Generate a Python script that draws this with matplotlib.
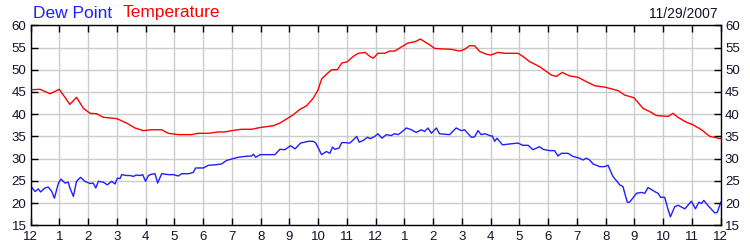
import matplotlib
matplotlib.use("Agg")
import matplotlib.pyplot as plt

plt.rcParams['font.family'] = ['Liberation Sans', 'DejaVu Sans']

# hours since midnight, temperature (F)
temp_hours = [0, 0.33, 0.68, 1.0, 1.37, 1.6, 1.84, 2.07, 2.3, 2.53, 3.0, 3.34, 3.63, 3.92,
              4.21, 4.56, 4.79, 5.14, 5.6, 5.83, 6.18, 6.53, 6.76, 6.99, 7.34, 7.69, 7.98,
              8.21, 8.44, 8.67, 8.9, 9.14, 9.37, 9.6, 9.83, 10.0, 10.12, 10.29, 10.47, 10.67,
              10.82, 11.01, 11.22, 11.4, 11.63, 11.8, 11.92,
              12.08, 12.31, 12.49, 12.66, 12.89, 13.12, 13.36, 13.56, 13.7, 13.88, 14.05,
              14.28, 14.63, 14.92, 15.09, 15.27, 15.44, 15.62, 15.85, 16.0,
              16.25, 16.49, 16.95, 17.12, 17.36, 17.7, 17.94, 18.11, 18.28, 18.49, 18.75,
              19.04, 19.33, 19.62, 19.96,
              20.2, 20.43, 20.66, 20.98, 21.3, 21.53, 21.76, 22.17, 22.34, 22.51, 22.8,
              23.04, 23.33, 23.62, 23.91, 24.0]
temp_vals = [45.5, 45.6, 44.6, 45.6, 42.2, 43.8, 41.3, 40.2, 40.1, 39.3, 39.0, 38.0, 36.9, 36.3,
             36.5, 36.5, 35.7, 35.4, 35.4, 35.7, 35.7, 36.0, 36.0, 36.3, 36.6, 36.6, 37.0,
             37.2, 37.4, 38.0, 38.9, 39.9, 41.1, 41.9, 43.6, 45.5, 47.9, 49.0, 50.0, 50.0,
             51.5, 51.8, 53.0, 53.7, 53.9, 53.0, 52.6,
             53.7, 53.7, 54.2, 54.2, 55.1, 56.0, 56.3, 56.9, 56.3, 55.6, 54.8,
             54.7, 54.6, 54.2, 54.6, 55.4, 55.4, 54.1, 53.5, 53.3,
             53.9, 53.7, 53.7, 53.0, 51.8, 50.7, 49.6, 48.8, 48.5, 49.4, 48.6,
             48.3, 47.3, 46.4, 46.1,
             45.7, 45.3, 44.3, 43.7, 41.3, 40.6, 39.7, 39.5, 40.2, 39.3, 38.2,
             37.6, 36.5, 35.0, 34.6, 34.5]

# hours since midnight, dew point (F)
dew_hours = [0, 0.16, 0.27, 0.35, 0.5, 0.62, 0.74, 0.83, 0.97, 1.06, 1.2, 1.31, 1.37, 1.49,
             1.6, 1.74, 1.89, 2.07, 2.18, 2.27, 2.36, 2.53, 2.67, 2.82, 2.94, 3.02, 3.11,
             3.17, 3.34, 3.46, 3.58, 3.67, 3.81, 3.9, 4.0,
             4.1, 4.21, 4.33, 4.42, 4.56, 4.79, 4.96, 5.14, 5.25, 5.49, 5.66, 5.74, 6.01,
             6.18, 6.41, 6.64, 6.82, 6.99, 7.22, 7.45, 7.69, 7.75, 7.83, 7.98,
             8.5, 8.67, 8.84, 9.04, 9.2, 9.39, 9.66, 9.83, 9.92, 10.12, 10.29, 10.41, 10.5,
             10.58, 10.73, 10.82, 10.93, 11.1, 11.22, 11.34, 11.43, 11.57, 11.71, 11.82, 11.97,
             12.08, 12.22, 12.37, 12.54, 12.66, 12.78, 12.89, 13.07, 13.24, 13.41, 13.59,
             13.7, 13.82, 13.94, 14.11, 14.22, 14.4, 14.57, 14.8, 14.98, 15.09, 15.33,
             15.44, 15.56, 15.67, 15.81, 16.0,
             16.06, 16.14, 16.22, 16.41, 16.66, 16.95, 17.12, 17.3, 17.47, 17.7, 17.82,
             18.05, 18.22, 18.34, 18.46, 18.69, 18.86, 19.09, 19.21, 19.33, 19.44, 19.56,
             19.79, 19.96,
             20.08, 20.25, 20.49, 20.6, 20.75, 20.83, 21.07, 21.24, 21.36, 21.47, 21.7,
             21.82, 21.91, 22.05, 22.17, 22.25, 22.4, 22.52, 22.75, 22.98, 23.12, 23.24,
             23.33, 23.41, 23.56, 23.79, 23.88, 24.0]
dew_vals = [23.9, 22.6, 23.2, 22.5, 23.4, 23.6, 22.6, 21.1, 24.5, 25.4, 24.5, 24.7, 23.4, 21.5,
            24.9, 25.8, 24.9, 24.4, 24.5, 23.4, 24.9, 24.7, 24.1, 24.9, 24.3, 25.6, 25.5,
            26.4, 26.2, 26.2, 26.0, 26.3, 26.2, 26.4, 24.9,
            26.2, 26.5, 26.6, 24.5, 26.6, 26.4, 26.4, 26.1, 26.6, 26.6, 26.9, 27.9, 27.9,
            28.5, 28.6, 28.8, 29.6, 29.9, 30.3, 30.5, 30.6, 31.0, 30.3, 30.9,
            30.9, 32.1, 32.0, 32.9, 32.2, 33.5, 33.9, 33.9, 33.5, 30.9, 31.6, 31.2, 32.6,
            32.1, 32.4, 33.6, 33.6, 33.5, 34.2, 35.0, 33.7, 34.1, 34.8, 34.5, 35.0,
            35.6, 34.6, 35.4, 35.2, 35.6, 35.4, 35.9, 36.9, 36.5, 35.9, 36.5,
            36.1, 36.9, 35.7, 36.9, 35.6, 35.5, 35.4, 36.9, 36.3, 36.5, 34.8,
            34.9, 36.3, 35.4, 35.6, 35.1,
            35.1, 33.9, 34.6, 33.1, 33.3, 33.5, 33.0, 33.0, 32.0, 32.7, 32.1,
            31.8, 31.8, 30.6, 31.2, 31.2, 30.5, 30.1, 29.7, 30.1, 29.7, 28.8,
            28.2, 28.2,
            28.5, 26.0, 24.1, 23.7, 20.2, 20.2, 22.2, 22.4, 22.2, 23.5, 22.6,
            22.2, 21.3, 21.3, 18.5, 16.9, 19.2, 19.5, 18.7, 20.4, 18.7, 20.2,
            19.9, 20.6, 19.4, 17.8, 17.9, 20.2]

hour_labels = ['12'] + [str(h) for h in range(1, 12)] + ['12'] + [str(h) for h in range(1, 12)] + ['12']
y_ticks = [15, 20, 25, 30, 35, 40, 45, 50, 55, 60]
date_text = '11/29/2007'

fig = plt.figure(figsize=(7.5, 2.5), dpi=100)
ax = fig.add_axes([0.0407, 0.0988, 0.9203, 0.8])

ax.plot(temp_hours, temp_vals, color='#ff0000', lw=1.0)
ax.plot(dew_hours, dew_vals, color='#1f1fff', lw=1.0)

ax.set_xlim(0, 24)
ax.set_ylim(15, 60)
ax.set_xticks(range(25))
ax.set_xticklabels(hour_labels)
ax.set_yticks(y_ticks)
ax.grid(True, color='#cccccc', lw=1.0)
ax.set_axisbelow(True)

ax.tick_params(direction='in', length=5, width=1, color='black', labelsize=9.5,
               labelcolor='#10102a', top=True, right=True, labelright=True, pad=3)
ax.tick_params(axis='x', pad=4)
for sp in ax.spines.values():
    sp.set_color('black')
    sp.set_linewidth(1.0)

fig.text(0.044, 0.93, 'Dew Point', color='#1f1fff', fontsize=12.5, va='baseline')
fig.text(0.164, 0.93, 'Temperature', color='#ff0000', fontsize=12.5, va='baseline')
fig.text(0.957, 0.93, date_text, color='#10102a', fontsize=10, ha='right', va='baseline')

fig.savefig('out.png', dpi=100)
